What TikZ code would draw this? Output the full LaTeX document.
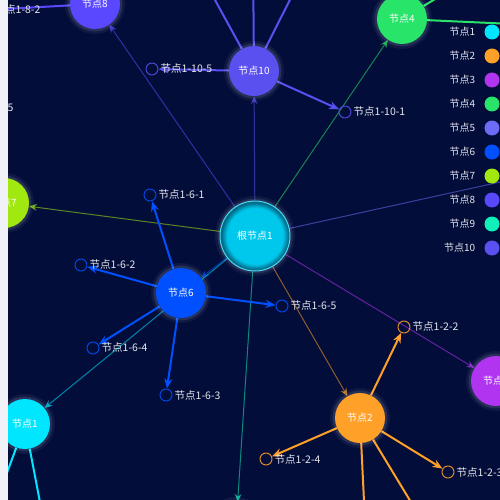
\documentclass[tikz,border=0pt]{standalone}
\usepackage{fontspec}
\newfontfamily\cjk{Noto Sans CJK SC}
\usetikzlibrary{arrows.meta,backgrounds,positioning}
\definecolor{bgnavy}{RGB}{3,13,58}
\definecolor{stripgray}{RGB}{240,242,247}
\definecolor{cRoot}{RGB}{0,200,236}
\definecolor{rootEdge}{RGB}{0,105,135}
\definecolor{cOne}{RGB}{0,230,255}
\definecolor{cTwo}{RGB}{255,160,40}
\definecolor{cThree}{RGB}{176,52,240}
\definecolor{cFour}{RGB}{40,228,104}
\definecolor{cFive}{RGB}{108,108,246}
\definecolor{cSix}{RGB}{0,80,255}
\definecolor{cSeven}{RGB}{160,232,16}
\definecolor{cEight}{RGB}{90,72,255}
\definecolor{cNine}{RGB}{16,240,184}
\definecolor{cTen}{RGB}{90,80,240}
\pgfdeclareradialshading{rootglow}{\pgfpoint{0bp}{0bp}}{color(0bp)=(cRoot); color(20bp)=(cRoot); color(24bp)=(rootEdge); color(25bp)=(rootEdge); color(50bp)=(rootEdge)}
\tikzset{
  glow/.style={preaction={draw=white,line width=10pt,opacity=0.05},preaction={draw=white,line width=5pt,opacity=0.1}},
  hub/.style={circle,fill=#1,minimum size=50pt,inner sep=0pt,text=white,glow},
  rootnode/.style={circle,shading=rootglow,draw=cRoot!70!white,line width=1pt,minimum size=70pt,inner sep=0pt,text=white,glow},
  leaf/.style={circle,draw=#1!85!bgnavy,line width=1pt,minimum size=12pt,inner sep=0pt},
  tag/.style={text=white!90!bgnavy,anchor=west,inner sep=2pt,font=\cjk\fontsize{10.5}{12}\selectfont},
  rootlink/.style={draw=#1,line width=1pt,opacity=0.55,-{Stealth[length=8pt,width=7pt]}},
  leaflink/.style={draw=#1,line width=2pt,-{Stealth[length=10pt,width=8pt]}},
  legdot/.style={circle,fill=#1,minimum size=15pt,inner sep=0pt},
  legtext/.style={text=white!90!bgnavy,inner sep=2pt}
}
\begin{document}
\begin{tikzpicture}[x=1pt,y=-1pt,font=\cjk\fontsize{10}{12}\selectfont,line cap=round,line join=round]
\useasboundingbox (0,0) rectangle (500,500);
\clip (0,0) rectangle (500,500);
% hubs
\node[rootnode] (root) at (255,236) {根节点1};
\node[hub=cTen] (n10) at (254,71) {节点10};
\node[hub=cEight] (n8) at (95,4) {节点8};
\node[hub=cFour] (n4) at (402,19) {节点4};
\node[hub=cSeven] (n7) at (4,203) {节点7};
\node[hub=cOne] (n1) at (25,424) {节点1};
\node[hub=cSix] (n6) at (181,293) {节点6};
\node[hub=cTwo] (n2) at (360,418) {节点2};
\node[hub=cThree] (n3) at (496,381) {节点3};
\node[hub=cFive] (n5) at (600,160) {};
\node[hub=cNine] (n9) at (236,527) {};
% leaves of 10
\node[leaf=cTen] (l10a) at (152,69) {};
\node[tag] (t10a) at (l10a.east) {节点1-10-5};
\node[leaf=cTen] (l10b) at (345,112) {};
\node[tag] (t10b) at (l10b.east) {节点1-10-1};
\node[leaf=cTen] (l10c) at (193,-40) {};
\node[leaf=cTen] (l10d) at (253,-45) {};
\node[leaf=cTen] (l10e) at (310,-40) {};
% leaves of 8, 7, 4
\node[leaf=cEight] (l8a) at (-14,10) {};
\node[tag] (t8a) at (l8a.east) {节点1-8-2};
\node[leaf=cSeven] (l7a) at (-41,108) {};
\node[tag] (t7a) at (l7a.east) {节点1-7-5};
\node[leaf=cFour] (l4a) at (535,25) {};
\node[leaf=cFour] (l4b) at (470,-22) {};
% leaves of 6
\node[leaf=cSix] (l6a) at (150,195) {};
\node[tag] (t6a) at (l6a.east) {节点1-6-1};
\node[leaf=cSix] (l6b) at (81,265) {};
\node[tag] (t6b) at (l6b.east) {节点1-6-2};
\node[leaf=cSix] (l6e) at (282,306) {};
\node[tag] (t6e) at (l6e.east) {节点1-6-5};
\node[leaf=cSix] (l6d) at (93,348) {};
\node[tag] (t6d) at (l6d.east) {节点1-6-4};
\node[leaf=cSix] (l6c) at (166,395) {};
\node[tag] (t6c) at (l6c.east) {节点1-6-3};
% leaves of 2
\node[leaf=cTwo] (l2b) at (404,327) {};
\node[tag] (t2b) at (l2b.east) {节点1-2-2};
\node[leaf=cTwo] (l2d) at (266,459) {};
\node[tag] (t2d) at (l2d.east) {节点1-2-4};
\node[leaf=cTwo] (l2c) at (448,472) {};
\node[tag] (t2c) at (l2c.east) {节点1-2-3};
\node[leaf=cTwo] (l2a) at (365,522) {};
\node[leaf=cTwo] (l2e) at (420,517) {};
% leaves of 1
\node[leaf=cOne] (l1a) at (-6,508) {};
\node[leaf=cOne] (l1b) at (43,518) {};
\begin{scope}[on background layer]
\clip (0,0) rectangle (500,500);
\fill[bgnavy] (0,0) rectangle (500,500);
\draw[rootlink=cTen] (root) -- (n10);
\draw[rootlink=cFour] (root) -- (n4);
\draw[rootlink=cEight] (root) -- (n8);
\draw[rootlink=cSeven] (root) -- (n7);
\draw[rootlink=cSix] (root) -- (n6);
\draw[rootlink=cOne] (root) -- (n1);
\draw[rootlink=cTwo] (root) -- (n2);
\draw[rootlink=cThree] (root) -- (n3);
\draw[rootlink=cFive] (root) -- (n5);
\draw[rootlink=cNine] (root) -- (n9);
\foreach \l in {l10a,l10b,l10c,l10d,l10e} \draw[leaflink=cTen] (n10) -- (\l);
\draw[leaflink=cEight] (n8) -- (l8a);
\draw[leaflink=cSeven] (n7) -- (l7a);
\foreach \l in {l4a,l4b} \draw[leaflink=cFour] (n4) -- (\l);
\foreach \l in {l6a,l6b,l6c,l6d,l6e} \draw[leaflink=cSix] (n6) -- (\l);
\foreach \l in {l2a,l2b,l2c,l2d,l2e} \draw[leaflink=cTwo] (n2) -- (\l);
\foreach \l in {l1a,l1b} \draw[leaflink=cOne] (n1) -- (\l);
\end{scope}
% legend
\foreach \c/\t [count=\i] in {cOne/节点1,cTwo/节点2,cThree/节点3,cFour/节点4,cFive/节点5,cSix/节点6,cSeven/节点7,cEight/节点8,cNine/节点9,cTen/节点10}{
  \node[legdot=\c] (leg\i) at (492,8+24*\i) {};
  \node[legtext,left=7pt of leg\i] (legt\i) {\t};
}
\fill[stripgray] (0,0) rectangle (8,500);
\end{tikzpicture}
\end{document}
